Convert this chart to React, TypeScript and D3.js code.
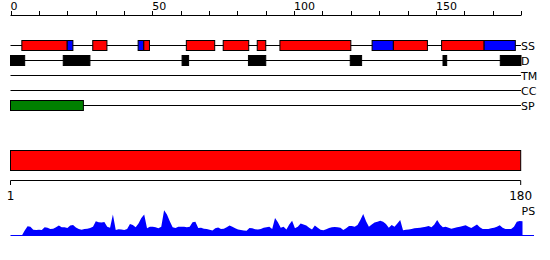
import React from "react";
import * as d3 from "d3";

const trackNames = ["SS", "D", "TM", "CC", "SP"];
const topTicks = d3.range(0, 181, 10);
const topLabels = [0, 50, 100, 150];

// Secondary structure segments [start, end, type]
const ssSegments: [number, number, string][] = [
  [4, 20, "H"], [20, 22, "E"],
  [29, 34, "H"],
  [45, 47, "E"], [47, 49, "H"],
  [62, 72, "H"],
  [75, 84, "H"],
  [87, 90, "H"],
  [95, 120, "H"],
  [127.5, 135, "E"], [135, 147, "H"],
  [152, 167, "H"], [167, 178, "E"],
];
// Disorder segments
const disorderSegments: [number, number][] = [
  [0, 5], [18.6, 28], [60.5, 62.8], [83.9, 90], [119.8, 123.8], [152.5, 153.8], [172.7, 180],
];
const tmSegments: [number, number][] = [];
const ccSegments: [number, number][] = [];
const spSegments: [number, number][] = [[0, 25.7]];

const domainStart = 1;
const domainEnd = 180;

// PS score per residue (0..180)
const psScores = [
  0, 0, 0, 0, 0, 18, 34, 32, 21, 20,
  21, 20, 30, 28, 24, 25, 30, 36, 30, 30,
  27, 36, 38, 29, 24, 21, 24, 25, 27, 32,
  52, 48, 47, 49, 32, 28, 76, 20, 23, 22,
  20, 24, 42, 38, 30, 44, 64, 76, 26, 32,
  32, 30, 26, 32, 92, 76, 52, 30, 27, 32,
  32, 32, 30, 32, 48, 50, 27, 28, 25, 24,
  21, 18, 26, 29, 24, 25, 30, 36, 32, 26,
  22, 20, 18, 17, 27, 26, 23, 22, 24, 28,
  30, 32, 24, 64, 48, 28, 32, 22, 40, 54,
  26, 32, 44, 40, 36, 28, 22, 36, 28, 21,
  19, 23, 27, 30, 31, 30, 28, 20, 26, 35,
  35, 32, 38, 56, 78, 52, 32, 40, 47, 50,
  54, 50, 42, 28, 38, 32, 44, 56, 19, 21,
  22, 24, 26, 27, 28, 30, 32, 35, 30, 40,
  56, 40, 30, 32, 28, 25, 27, 30, 32, 35,
  37, 32, 27, 34, 40, 30, 24, 24, 24, 26,
  28, 32, 37, 28, 24, 24, 24, 32, 50, 53,
  52,
];

const ssColor: Record<string, string> = { H: "#ff0000", E: "#0000ff" };

export default function App() {
  const width = 550;
  const height = 260;
  const x = d3.scaleLinear().domain([0, 180]).range([10.5, 521]);
  const xb = d3.scaleLinear().domain([domainStart, domainEnd]).range([10.5, 520.7]);
  const xp = d3.scaleLinear().domain([0, 180]).range([10.5, 522.5]);
  const trackY = d3.scalePoint<string>().domain(trackNames).range([45.5, 105.5]);
  const yPs = d3.scaleLinear().domain([0, 100]).range([235.5, 208]);
  const area = d3
    .area<number>()
    .x((_, i) => xp(i))
    .y0(yPs(0))
    .y1((d) => yPs(d));
  const font = "DejaVu Sans, sans-serif";
  const boxH = 10;

  const boxes = (segs: [number, number][], name: string, fill: string) =>
    segs.map(([s, e], i) => (
      <rect
        key={name + i}
        x={x(s)}
        y={(trackY(name) as number) - boxH / 2}
        width={x(e) - x(s)}
        height={boxH}
        fill={fill}
        stroke="#000"
        strokeWidth={1}
      />
    ));

  return (
    <svg width={width} height={height} style={{ position: "absolute", left: 0, top: 0 }} fontFamily={font}>
      {/* top axis */}
      <line x1={x(0)} x2={x(180)} y1={15.5} y2={15.5} stroke="#000" />
      {topTicks.map((t) => (
        <line key={t} x1={Math.round(x(t)) + 0.5} x2={Math.round(x(t)) + 0.5} y1={11} y2={15.5} stroke="#000" />
      ))}
      {topLabels.map((t) => (
        <text key={t} x={x(t)} y={9.5} fontSize={11} fill="#000">
          {t}
        </text>
      ))}
      {/* track lines */}
      {trackNames.map((n) => (
        <g key={n}>
          <line x1={x(0)} x2={x(180)} y1={trackY(n)} y2={trackY(n)} stroke="#000" />
          <text x={x(180)} y={(trackY(n) as number) + 4} fontSize={11} fill="#000">
            {n}
          </text>
        </g>
      ))}
      {ssSegments.map(([s, e, t], i) => (
        <rect
          key={"ss" + i}
          x={x(s)}
          y={(trackY("SS") as number) - boxH / 2}
          width={x(e) - x(s)}
          height={boxH}
          fill={ssColor[t]}
          stroke="#000"
          strokeWidth={1}
        />
      ))}
      {boxes(disorderSegments, "D", "#000")}
      {boxes(tmSegments, "TM", "#ffff00")}
      {boxes(ccSegments, "CC", "#800080")}
      {boxes(spSegments, "SP", "#008000")}
      {/* domain bar */}
      <rect x={xb(domainStart)} y={150.5} width={xb(domainEnd) - xb(domainStart)} height={20} fill="#ff0000" stroke="#000" />
      <line x1={xb(domainStart)} x2={xb(domainEnd)} y1={180.5} y2={180.5} stroke="#000" />
      {[domainStart, domainEnd].map((t) => (
        <g key={t}>
          <line x1={xb(t)} x2={xb(t)} y1={180.5} y2={185} stroke="#000" />
          <text x={xb(t)} y={200} fontSize={12} textAnchor="middle" fill="#000">
            {t}
          </text>
        </g>
      ))}
      <text x={521.5} y={215} fontSize={11} fill="#000">
        PS
      </text>
      {/* PS area */}
      <path d={area(psScores) || ""} fill="#0000ff" />
      <line x1={xp(0)} x2={534} y1={235.5} y2={235.5} stroke="#0000ff" />
    </svg>
  );
}
